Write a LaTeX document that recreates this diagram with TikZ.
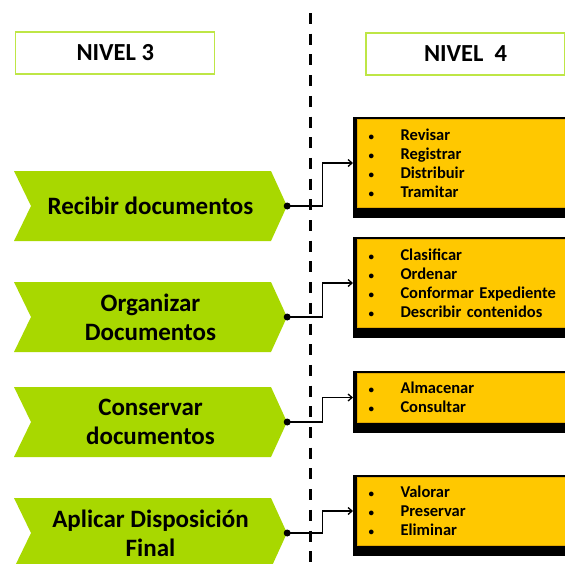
\documentclass[tikz,border=0pt]{standalone}
\usepackage{fontspec}
\setmainfont{Carlito}
\usetikzlibrary{arrows.meta, positioning, calc, backgrounds}

\definecolor{procgreen}{RGB}{168,216,0}
\definecolor{headgreen}{RGB}{190,230,70}
\definecolor{taskgold}{RGB}{255,200,0}
\definecolor{taskrim}{RGB}{226,168,0}

\newcommand{\paso}[1]{\makebox[32pt][l]{\fontsize{11}{11}\selectfont\textbullet}#1}

\begin{document}
\begin{tikzpicture}[
        x=1pt, y=-1pt,
        header/.style={rectangle, draw=headgreen, line width=1.2pt, minimum width=199pt, minimum height=42pt, font=\fontsize{24.5}{28}\selectfont\bfseries},
        process/.style={minimum width=273pt, minimum height=70pt, inner sep=0pt, align=center, font=\fontsize{25}{29}\selectfont\bfseries,
            path picture={\fill[procgreen] (path picture bounding box.north west) -- ([xshift=-16pt]path picture bounding box.north east) -- (path picture bounding box.east) -- ([xshift=-16pt]path picture bounding box.south east) -- (path picture bounding box.south west) -- ([xshift=17pt]path picture bounding box.west) -- cycle;}},
        task/.style={rectangle, fill=taskgold, draw=taskrim, line width=1pt, anchor=west, text width=200pt, inner xsep=11pt, inner ysep=0pt, align=left, font=\fontsize{16.5}{19}\selectfont\bfseries},
        link/.style={line width=1.3pt, -{Straight Barb[length=4pt, width=7pt]}},
        divider/.style={line width=3pt, dash pattern=on 11pt off 9.7pt}
    ]
    \useasboundingbox (0,0) rectangle (565,563);
    \clip (0,0) rectangle (565,563);

    % level headers
    \node [header] (n3) at (115.25,53) {NIVEL 3};
    \node [header] (n4) at (465.5,54) {NIVEL\ \ 4};

    % level 3 processes
    \node [process] (p1) at (150.5,206) {Recibir documentos};
    \node [process] (p2) at (150.5,317) {Organizar\\Documentos};
    \node [process] (p3) at (150.5,422) {Conservar\\documentos};
    \node [process] (p4) at (150.5,533) {Aplicar Disposición\\Final};

    % level 4 tasks
    \node [task, minimum height=88pt] (t1) at (357,163) {\paso{Revisar}\\\paso{Registrar}\\\paso{Distribuir}\\\paso{Tramitar}};
    \node [task, minimum height=88pt] (t2) at (357,283) {\paso{Clasificar}\\\paso{Ordenar}\\\paso{Conformar Expediente}\\\paso{Describir contenidos}};
    \node [task, minimum height=49pt] (t3) at (357,397.5) {\paso{Almacenar}\\\paso{Consultar}};
    \node [task, minimum height=68pt] (t4) at (357,511) {\paso{Valorar}\\\paso{Preservar}\\\paso{Eliminar}};

    \begin{scope}[on background layer]
        \foreach \t in {t1,t2,t3,t4}
            \fill ([xshift=-4pt,yshift=2pt]\t.north west) rectangle ([yshift=-10pt]\t.south east);
    \end{scope}

    \foreach \p/\t in {p1/t1,p2/t2,p3/t3,p4/t4}{
        \draw [link] (\p.east) -- ++(35,0) |- ([xshift=-4pt]\t.west);
        \fill (\p.east) circle (3.5pt);
    }

    % divider between levels
    \coordinate (top) at (310,13);
    \coordinate (bottom) at (310,563);
    \draw [divider] (top) -- (bottom);
\end{tikzpicture}
\end{document}
